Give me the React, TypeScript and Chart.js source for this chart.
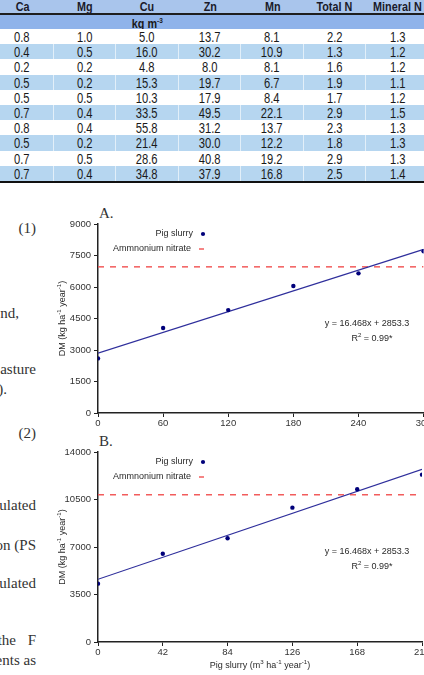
import React, { useEffect, useRef } from "react";
import { Chart, registerables } from "chart.js";

Chart.register(...registerables);

// ---------- Table data ----------
const tableHeaders = ["Ca", "Mg", "Cu", "Zn", "Mn", "Total N", "Mineral N"];
const caValues = [0.8, 0.4, 0.2, 0.5, 0.5, 0.7, 0.8, 0.5, 0.7, 0.7];
const mgValues = [1.0, 0.5, 0.2, 0.2, 0.5, 0.4, 0.4, 0.2, 0.5, 0.4];
const cuValues = [5.0, 16.0, 4.8, 15.3, 10.3, 33.5, 55.8, 21.4, 28.6, 34.8];
const znValues = [13.7, 30.2, 8.0, 19.7, 17.9, 49.5, 31.2, 30.0, 40.8, 37.9];
const mnValues = [8.1, 10.9, 8.1, 6.7, 8.4, 22.1, 13.7, 12.2, 19.2, 16.8];
const totalNValues = [2.2, 1.3, 1.6, 1.9, 1.7, 2.9, 2.3, 1.8, 2.9, 2.5];
const mineralNValues = [1.3, 1.2, 1.2, 1.1, 1.2, 1.5, 1.3, 1.3, 1.3, 1.4];
const unitLabel = "kg m";
const unitSup = "-3";

// ---------- Chart data ----------
const doseA = [0, 60, 120, 180, 240, 300];
const dmA = [2600, 4050, 4900, 6050, 6650, 7700];
const trendA = [2853.3, 7793.7];
const nitrateA = 6960;

const doseB = [0, 42, 84, 126, 168, 210];
const dmB = [4300, 6500, 7650, 9900, 11250, 12330];
const trendB = [4620, 12720];
const nitrateB = 10850;

const legendLabels = ["Pig slurry", "Ammnonium nitrate"];
const equationText = "y = 16.468x + 2853.3";
const r2Text = "R";
const r2Rest = " = 0.99*";

// ---------- Body text fragments ----------
const bodyTexts = ["(1)", "nd,", "asture", ").", "(2)", "ulated", "on (PS", "ulated", "the", "F", "ents as"];
const bodyY = [228, 313, 369, 389, 433, 505, 545, 583, 640, 640, 660];
const bodyRight = [36, 19, 36, 7, 36, 36, 36, 36, 16, 36, 36];

const SANS = "Arial, 'Liberation Sans', sans-serif";
const SERIF = "'Liberation Serif', 'Times New Roman', serif";
const NARROW = "'Liberation Sans', Arial, sans-serif";

type Part = { t: string; sup?: boolean };

function drawRich(ctx: CanvasRenderingContext2D, parts: Part[], x: number, y: number, size: number, rot: number) {
  ctx.save();
  ctx.translate(x, y);
  ctx.rotate(rot);
  const supSize = size * 0.68;
  let total = 0;
  for (const p of parts) {
    ctx.font = `${p.sup ? supSize : size}px ${SANS}`;
    total += ctx.measureText(p.t).width;
  }
  let cx = -total / 2;
  ctx.textAlign = "left";
  ctx.textBaseline = "middle";
  for (const p of parts) {
    ctx.font = `${p.sup ? supSize : size}px ${SANS}`;
    ctx.fillText(p.t, cx, p.sup ? -size * 0.38 : 0);
    cx += ctx.measureText(p.t).width;
  }
  ctx.restore();
}

type ChartProps = {
  doses: number[];
  dm: number[];
  trend: number[];
  nitrate: number;
  xMax: number;
  xStep: number;
  yMax: number;
  yStep: number;
  left: number;
  top: number;
  width: number;
  height: number;
  padTop: number;
  padRight: number;
  xAxisH: number;
  xTitle: boolean;
};

function RegressionChart(props: ChartProps) {
  const ref = useRef<HTMLCanvasElement>(null);
  useEffect(() => {
    const { doses, dm, trend, nitrate, xMax, xStep, yMax, yStep, padTop, padRight, xAxisH, xTitle } = props;
    const annot = {
      id: "annot",
      afterDraw(chart: any) {
        const ctx: CanvasRenderingContext2D = chart.ctx;
        const ca = chart.chartArea;
        ctx.save();
        ctx.fillStyle = "#2a2a2a";
        ctx.font = `9px ${SANS}`;
        ctx.textBaseline = "middle";
        ctx.textAlign = "right";
        // legend
        ctx.fillText(legendLabels[0], ca.left + 95, ca.top + 10);
        ctx.fillText(legendLabels[1], ca.left + 93, ca.top + 25);
        ctx.fillStyle = "#00007a";
        ctx.beginPath();
        ctx.arc(ca.left + 105, ca.top + 10, 2.1, 0, Math.PI * 2);
        ctx.fill();
        ctx.strokeStyle = "#f25c5c";
        ctx.lineWidth = 1.5;
        ctx.beginPath();
        ctx.moveTo(ca.left + 101, ca.top + 25);
        ctx.lineTo(ca.left + 106, ca.top + 25);
        ctx.stroke();
        // equation
        ctx.fillStyle = "#2a2a2a";
        ctx.textAlign = "center";
        ctx.font = `9px ${SANS}`;
        ctx.fillText(equationText, ca.left + 269, ca.top + 100);
        drawRich(ctx, [{ t: r2Text }, { t: "2", sup: true }, { t: r2Rest }], ca.left + 274, ca.top + 115, 9, 0);
        // y title
        drawRich(
          ctx,
          [{ t: "DM (kg ha" }, { t: "-1", sup: true }, { t: " year" }, { t: "-1", sup: true }, { t: ")" }],
          ca.left - 35,
          (ca.top + ca.bottom) / 2,
          9,
          -Math.PI / 2
        );
        if (xTitle) {
          drawRich(
            ctx,
            [{ t: "Pig slurry (m" }, { t: "3", sup: true }, { t: " ha" }, { t: "-1", sup: true }, { t: " year" }, { t: "-1", sup: true }, { t: ")" }],
            (ca.left + ca.right) / 2,
            ca.bottom + 24,
            9,
            0
          );
        }
        ctx.restore();
      },
    };
    const axisCommon = {
      grid: { drawOnChartArea: false, drawTicks: true, tickLength: 4, color: "#222", lineWidth: 1 },
      border: { display: true, color: "#222", width: 1.5 },
    };
    const chart = new Chart(ref.current as HTMLCanvasElement, {
      type: "scatter",
      data: {
        datasets: [
          {
            label: legendLabels[0],
            data: doses.map((x, i) => ({ x, y: dm[i] })),
            pointRadius: 2.2,
            pointBackgroundColor: "#00007a",
            pointBorderColor: "#00007a",
            pointBorderWidth: 0,
          },
          {
            label: "trend",
            data: [
              { x: 0, y: trend[0] },
              { x: xMax, y: trend[1] },
            ],
            showLine: true,
            borderColor: "#2f2f9c",
            borderWidth: 1.2,
            pointRadius: 0,
          },
          {
            label: legendLabels[1],
            data: [
              { x: 0, y: nitrate },
              { x: xMax, y: nitrate },
            ],
            showLine: true,
            borderColor: "#f25c5c",
            borderWidth: 1.5,
            borderDash: [6, 6],
            pointRadius: 0,
          },
        ],
      },
      options: {
        responsive: false,
        animation: false,
        devicePixelRatio: 1,
        layout: { padding: { top: padTop, right: padRight, left: 0, bottom: 0 } },
        plugins: { legend: { display: false }, tooltip: { enabled: false } },
        scales: {
          x: {
            type: "linear",
            min: 0,
            max: xMax,
            ticks: {
              stepSize: xStep,
              autoSkip: false,
              maxRotation: 0,
              padding: 1,
              color: "#333",
              font: { family: SANS, size: 9.5 },
              callback: (v: any) => String(v),
            },
            ...axisCommon,
            afterFit(s: any) {
              s.height = xAxisH;
            },
          },
          y: {
            type: "linear",
            min: 0,
            max: yMax,
            ticks: {
              stepSize: yStep,
              padding: 3,
              color: "#333",
              font: { family: SANS, size: 9.5 },
              callback: (v: any) => String(v),
            },
            ...axisCommon,
            afterFit(s: any) {
              s.width = 48;
            },
          },
        },
      } as any,
      plugins: [annot],
    });
    return () => chart.destroy();
  }, []);
  return (
    <canvas
      ref={ref}
      width={props.width}
      height={props.height}
      style={{ position: "absolute", left: props.left, top: props.top, width: props.width, height: props.height }}
    />
  );
}

const COLW = 62.5;
const ROWH = 15.2;

function Narrow(props: { children: any; bold?: boolean; size: number }) {
  return (
    <span
      style={{
        display: "inline-block",
        transform: "scaleX(0.8)",
        transformOrigin: "center",
        fontWeight: props.bold ? "bold" : "normal",
        fontSize: props.size,
        whiteSpace: "nowrap",
      }}
    >
      {props.children}
    </span>
  );
}

function DataTable() {
  const cols = [caValues, mgValues, cuValues, znValues, mnValues, totalNValues, mineralNValues];
  const rowCount = caValues.length;
  return (
    <div style={{ position: "absolute", left: -9, top: 0, width: COLW * 7, fontFamily: NARROW, color: "#1a1a1a" }}>
      <div
        style={{
          position: "absolute",
          left: 0,
          top: -2,
          width: COLW * 7,
          height: 15,
          background: "#a9c5ec",
          borderBottom: "2px solid #1e1e1e",
          display: "flex",
        }}
      >
        {tableHeaders.map((h) => (
          <div key={h} style={{ width: COLW, textAlign: "center", lineHeight: "15px", color: "#1a1a2a", overflow: "visible" }}>
            <Narrow bold size={13.5}>
              {h}
            </Narrow>
          </div>
        ))}
      </div>
      <div style={{ position: "absolute", left: 0, top: 15, width: COLW * 7, height: 14, background: "#8fb3ea" }}>
        <div
          style={{
            position: "absolute",
            left: COLW * 2,
            width: COLW,
            textAlign: "center",
            lineHeight: "15px",
          }}
        >
          <Narrow bold size={13.5}>
            {unitLabel}
            <sup style={{ fontSize: 8, verticalAlign: "top", lineHeight: "10px" }}>{unitSup}</sup>
          </Narrow>
        </div>
      </div>
      {Array.from({ length: rowCount }).map((_, r) => (
        <div
          key={r}
          style={{
            position: "absolute",
            left: 0,
            top: 29 + r * ROWH,
            width: COLW * 7,
            height: ROWH,
            background: r % 2 === 1 ? "#b6d6f0" : "#ffffff",
            display: "flex",
          }}
        >
          {cols.map((c, ci) => (
            <div
              key={ci}
              style={{
                width: COLW,
                textAlign: "center",
                lineHeight: ROWH + "px",
                boxSizing: "border-box",
                borderRight: ci < 6 ? "1px solid rgba(255,255,255,0.6)" : "none",
              }}
            >
              <Narrow size={14}>{c[r].toFixed(1)}</Narrow>
            </div>
          ))}
        </div>
      ))}
      <div style={{ position: "absolute", left: 0, top: 29 + rowCount * ROWH, width: COLW * 7, height: 2, background: "#111" }} />
    </div>
  );
}

export default function App() {
  return (
    <div
      style={{
        position: "absolute",
        left: 0,
        top: 0,
        width: 424,
        height: 675,
        overflow: "hidden",
        background: "#fff",
      }}
    >
      <DataTable />
      {bodyTexts.map((t, i) => (
        <div
          key={i}
          style={{
            position: "absolute",
            left: bodyRight[i] - 200,
            width: 200,
            top: bodyY[i] - 10,
            height: 20,
            lineHeight: "20px",
            textAlign: "right",
            fontFamily: SERIF,
            fontSize: 15,
            color: "#333",
            whiteSpace: "nowrap",
          }}
        >
          {t}
        </div>
      ))}
      <div style={{ position: "absolute", left: 99, top: 203, lineHeight: "20px", fontFamily: SERIF, fontSize: 15, color: "#333" }}>A.</div>
      <div style={{ position: "absolute", left: 99, top: 431, lineHeight: "20px", fontFamily: SERIF, fontSize: 15, color: "#333" }}>B.</div>
      <RegressionChart
        doses={doseA}
        dm={dmA}
        trend={trendA}
        nitrate={nitrateA}
        xMax={300}
        xStep={60}
        yMax={9000}
        yStep={1500}
        left={50}
        top={215}
        width={400}
        height={218}
        padTop={9}
        padRight={26.4}
        xAxisH={20}
        xTitle={false}
      />
      <RegressionChart
        doses={doseB}
        dm={dmB}
        trend={trendB}
        nitrate={nitrateB}
        xMax={210}
        xStep={42}
        yMax={14000}
        yStep={3500}
        left={50}
        top={442}
        width={400}
        height={233}
        padTop={10}
        padRight={28}
        xAxisH={33}
        xTitle={true}
      />
    </div>
  );
}
